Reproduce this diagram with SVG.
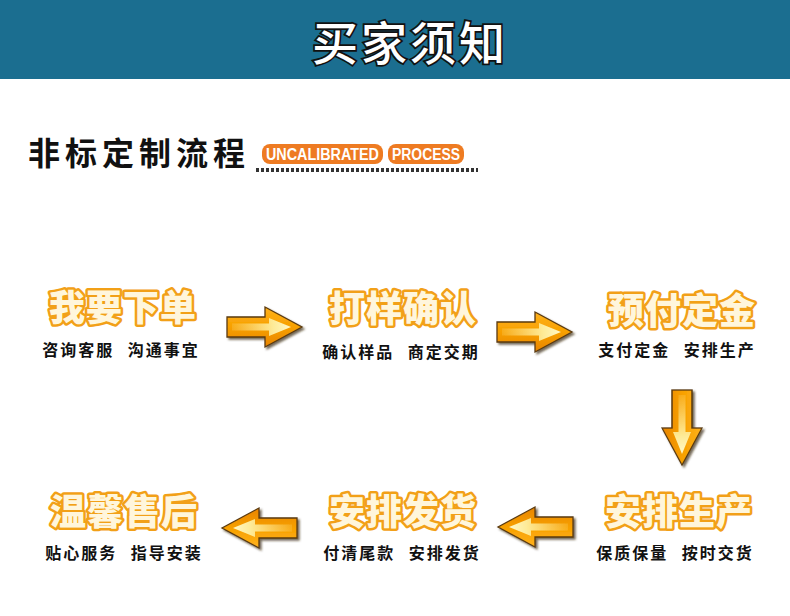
<svg xmlns="http://www.w3.org/2000/svg" xmlns:xlink="http://www.w3.org/1999/xlink" width="790" height="616" viewBox="0 0 790 616">
<defs>
<style>
.cjk{font-family:"Noto Sans CJK SC","Noto Sans CJK JP",sans-serif;}
.head{font-size:46px;font-weight:500;fill:#fff;stroke:#111;stroke-width:3.5;paint-order:stroke;letter-spacing:3px;}
.sect{font-size:32px;font-weight:700;fill:#111;letter-spacing:5px;}
.badge{fill:#ee7b22;}
.badge-t{font-family:"Liberation Sans",Arial,sans-serif;font-size:16px;font-weight:700;fill:#fff;}
.title{font-size:36px;font-weight:900;fill:#fff6dc;stroke:#f2a018;stroke-width:5;stroke-linejoin:round;paint-order:stroke;letter-spacing:1px;text-anchor:middle;}
.sub{font-size:16px;font-weight:700;fill:#111;letter-spacing:2px;word-spacing:8px;text-anchor:middle;}
.arrow{fill:url(#ag);stroke:#5a3a12;stroke-width:1.3;stroke-linejoin:miter;}
.hl{fill:url(#hg);}
</style>
<linearGradient id="ag" x1="0" y1="0" x2="0" y2="1">
<stop offset="0" stop-color="#ffb21a"/>
<stop offset="0.5" stop-color="#f7a000"/>
<stop offset="1" stop-color="#e88400"/>
</linearGradient>
<linearGradient id="hg" x1="0" y1="0" x2="1" y2="0">
<stop offset="0" stop-color="#fff3a8" stop-opacity="0.15"/>
<stop offset="0.7" stop-color="#fff3a8" stop-opacity="0.9"/>
<stop offset="1" stop-color="#fff8c8" stop-opacity="1"/>
</linearGradient>
<filter id="sh" x="-20%" y="-20%" width="150%" height="150%">
<feGaussianBlur in="SourceAlpha" stdDeviation="1"/>
<feOffset dx="2" dy="2" result="o"/>
<feFlood flood-color="#3a2a10" flood-opacity="0.7"/>
<feComposite in2="o" operator="in"/>
<feMerge><feMergeNode/><feMergeNode in="SourceGraphic"/></feMerge>
</filter>
<g id="arr">
<polygon class="arrow" points="0,-10 38,-10 38,-20 75,0 38,20 38,10 0,10"/>
<polygon class="hl" points="5,-3.5 42,-3.5 42,-9 64,0 42,9 42,3.5 5,3.5"/>
</g>
</defs>

<rect x="0" y="0" width="790" height="616" fill="#fff"/>
<rect x="0" y="0" width="790" height="79" fill="#1b6e90"/>
<text class="cjk head" x="410" y="60" text-anchor="middle">买家须知</text>

<g id="section">
<text class="cjk sect" x="28" y="165">非标定制流程</text>
<rect class="badge" x="262" y="144" width="121" height="20" rx="8"/>
<rect class="badge" x="388" y="144" width="76" height="20" rx="8"/>
<text class="badge-t" x="266" y="160" textLength="113" lengthAdjust="spacingAndGlyphs">UNCALIBRATED</text>
<text class="badge-t" x="392" y="160" textLength="68" lengthAdjust="spacingAndGlyphs">PROCESS</text>
<line x1="256" y1="170" x2="478" y2="170" stroke="#333" stroke-width="4" stroke-dasharray="3 2"/>
</g>

<g id="step1">
<text class="cjk title" x="123" y="321">我要下单</text>
<text class="cjk sub" x="121" y="356">咨询客服 沟通事宜</text>
</g>
<g id="step2">
<text class="cjk title" x="403" y="322">打样确认</text>
<text class="cjk sub" x="401" y="358">确认样品 商定交期</text>
</g>
<g id="step3">
<text class="cjk title" x="682" y="324">预付定金</text>
<text class="cjk sub" x="677" y="356">支付定金 安排生产</text>
</g>
<g id="step4">
<text class="cjk title" x="679" y="525">安排生产</text>
<text class="cjk sub" x="675" y="559">保质保量 按时交货</text>
</g>
<g id="step5">
<text class="cjk title" x="403" y="525">安排发货</text>
<text class="cjk sub" x="402" y="559">付清尾款 安排发货</text>
</g>
<g id="step6">
<text class="cjk title" x="124" y="525">温馨售后</text>
<text class="cjk sub" x="124" y="559">贴心服务 指导安装</text>
</g>

<g id="connectors" filter="url(#sh)">
<use xlink:href="#arr" transform="translate(227,327)"/>
<use xlink:href="#arr" transform="translate(497,332)"/>
<use xlink:href="#arr" transform="translate(682,390) rotate(90)"/>
<use xlink:href="#arr" transform="translate(573,527) rotate(180)"/>
<use xlink:href="#arr" transform="translate(297,528) rotate(180)"/>
</g>
</svg>
